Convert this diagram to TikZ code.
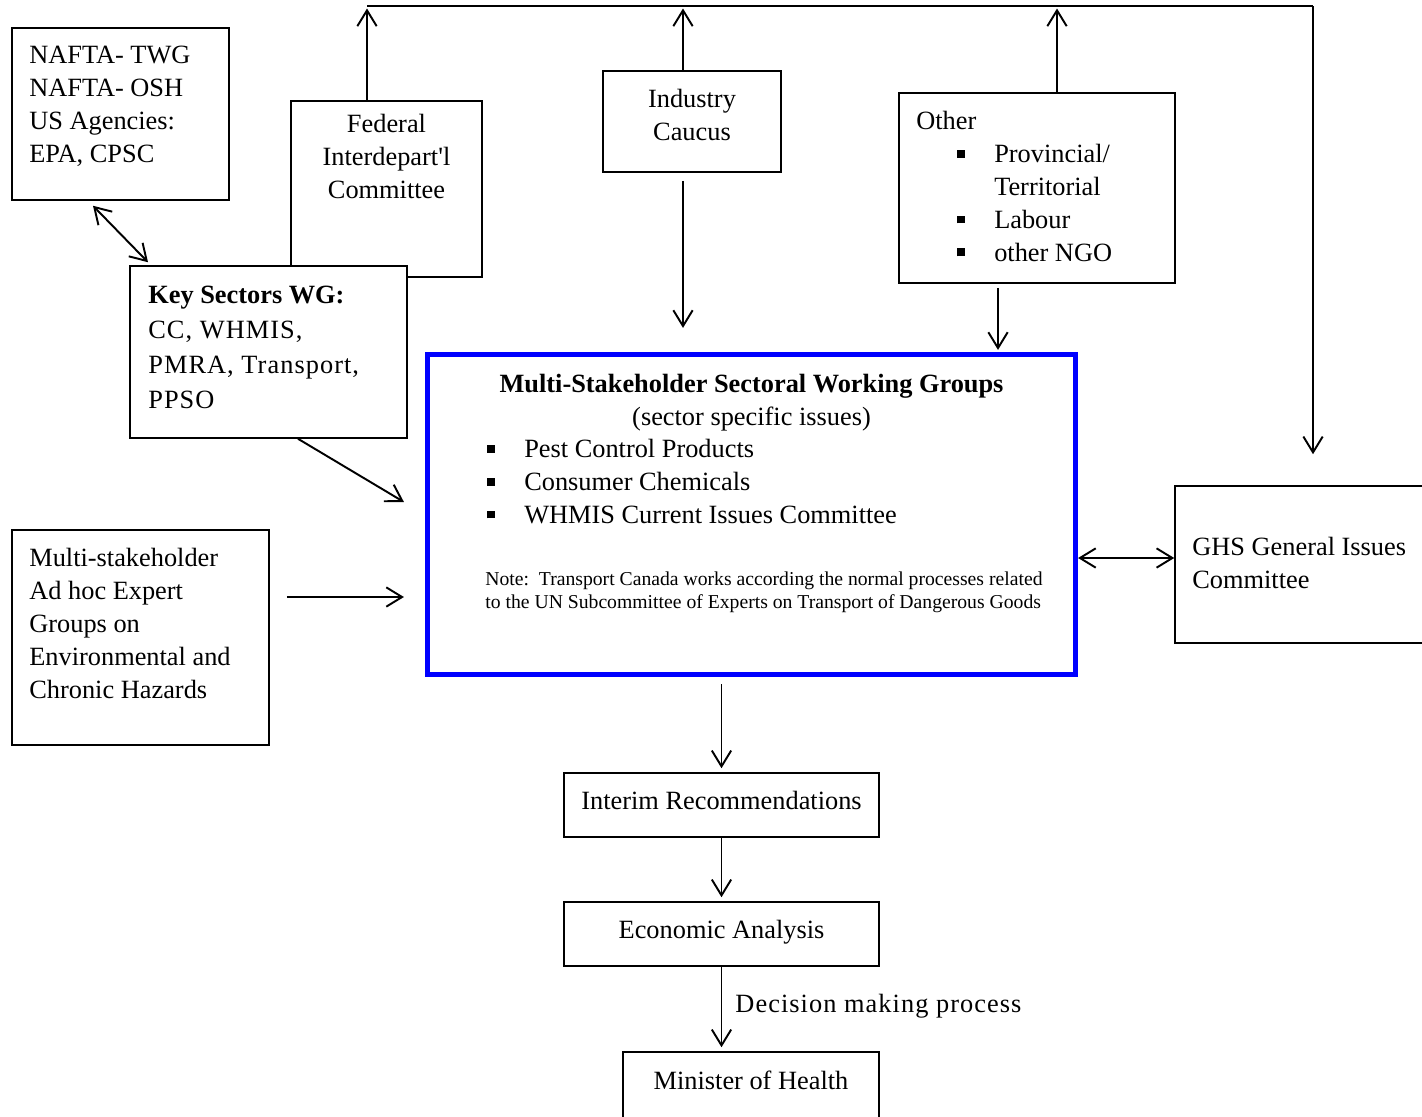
\documentclass[tikz,border=0pt]{standalone}
\usepackage{fontspec}
\setmainfont{Liberation Serif}
\usetikzlibrary{arrows.meta}

\definecolor{mainblue}{RGB}{0,0,255}
\newcommand{\bigtxt}{\fontsize{15pt}{18.7pt}\selectfont}
\newcommand{\notetxt}{\fontsize{11.2pt}{13.6pt}\selectfont}
\newcommand{\blt}{\makebox[21pt][l]{\rule[2.8pt]{4.5pt}{4.5pt}}}
\newcommand{\lsp}[1]{{\addfontfeature{LetterSpace=4}#1}}

\begin{document}
\begin{tikzpicture}[x=0.02cm, y=-0.02cm,
  box/.style={draw, line width=0.9pt, inner sep=0pt},
  flowbox/.style={box, minimum width=6.3cm, minimum height=1.28cm, font=\bigtxt, text depth=5pt},
  txt/.style={inner sep=0pt, align=left, font=\bigtxt},
  arr/.style={line width=1.1pt, -{Straight Barb[length=9pt,width=11pt]}},
  darr/.style={line width=1.1pt, {Straight Barb[length=9pt,width=11pt]}-{Straight Barb[length=9pt,width=11pt]}}]
  \useasboundingbox (0,0) rectangle (1422,1116);

  % boxes
  \node[box, minimum width=4.34cm, minimum height=3.44cm] (nafta) at (120.5,114) {};
  \node[box, minimum width=3.82cm, minimum height=3.52cm] (fed) at (386.5,189) {};
  \node[box, fill=white, minimum width=5.54cm, minimum height=3.44cm] (keys) at (268.5,352) {};
  \node[box, minimum width=3.56cm, minimum height=2.02cm] (ind) at (692,121.5) {};
  \node[box, minimum width=5.52cm, minimum height=3.8cm] (other) at (1037,188) {};
  \node[box, draw=mainblue, line width=3pt, minimum width=12.96cm, minimum height=6.4cm] (main) at (751.5,514.5) {};
  \node[box, minimum width=5.14cm, minimum height=4.3cm] (multi) at (140.5,637.5) {};
  \node[box, minimum width=5.2cm, minimum height=3.14cm] (ghs) at (1305,564.5) {};
  \node[flowbox] (interim) at (721.5,805) {Interim Recommendations};
  \node[flowbox] (econ) at (721.5,934) {Economic Analysis};
  \node[flowbox, minimum width=5.12cm, minimum height=1.46cm, text depth=9.5pt] (minister) at (751,1088.5) {Minister of Health};

  % texts
  \node[txt, anchor=north west] (nafta-t) at (29,46) {NAFTA- TWG\\NAFTA- OSH\\US Agencies:\\EPA, CPSC};
  \node[txt, align=center, anchor=north] (fed-t) at (386.5,114) {Federal\\Interdepart\textquotesingle l\\Committee};
  \node[txt, anchor=north west, font={\fontsize{15pt}{19.8pt}\selectfont}] (keys-t) at (148,286)
    {\textbf{Key Sectors WG:}\\\lsp{CC, WHMIS,}\\\lsp{PMRA, Transport,}\\\lsp{PPSO}};
  \node[txt, align=center, anchor=north] (ind-t) at (692,89) {Industry\\Caucus};
  \node[txt, anchor=north west] (other-t) at (916,111) {Other};
  \node[txt, anchor=north west] (other-l) at (957,144)
    {\blt Provincial/\\\hspace*{21pt}Territorial\\\blt Labour\\\blt other NGO};
  \node[txt, align=center, anchor=north] (main-t) at (751.5,374)
    {\textbf{Multi-Stakeholder Sectoral Working Groups}\\(sector specific issues)};
  \node[txt, anchor=north west] (main-l) at (487,439)
    {\blt Pest Control Products\\\blt Consumer Chemicals\\\blt WHMIS Current Issues Committee};
  \node[txt, anchor=north west, font=\notetxt] (note) at (485,571)
    {Note:\ \ Transport Canada works according the normal processes related\\to the UN Subcommittee of Experts on Transport of Dangerous Goods};
  \node[txt, anchor=north west] (multi-t) at (29,548)
    {Multi-stakeholder\\Ad hoc Expert\\Groups on\\Environmental and\\Chronic Hazards};
  \node[txt, anchor=north west] (ghs-t) at (1192,537) {GHS General Issues\\Committee};

  % connectors
  \coordinate (b1) at (367,6);
  \coordinate (b2) at (683,6);
  \coordinate (b3) at (1057,6);
  \coordinate (b4) at (1313,6);
  \coordinate (ox) at (998,0);
  \coordinate (my) at (0,597);
  \coordinate (gy) at (0,558);

  \draw[line width=1.1pt] (b1) -- (b4);
  \draw[arr, shorten >=0.05cm] (fed.north -| b1) -- (b1);
  \draw[arr, shorten >=0.05cm] (ind.north -| b2) -- (b2);
  \draw[arr, shorten >=0.05cm] (other.north -| b3) -- (b3);
  \draw[arr, shorten >=0.62cm] (b4) -- (b4 |- ghs.north);
  \draw[arr, shorten <=0.16cm, shorten >=0.48cm] (ind.south -| b2) -- (main.north -| b2);
  \draw[arr, shorten <=0.08cm, shorten >=0.04cm] (other.south -| ox) -- (main.north -| ox);
  \draw[darr] ([xshift=-0.55cm, yshift=-0.1cm]nafta.south) -- ([xshift=-2.41cm, yshift=0.06cm]keys.north);
  \draw[arr] ([xshift=0.59cm]keys.south) -- ([xshift=-0.42cm, yshift=0.25cm]main.west);
  \draw[arr, shorten <=0.34cm, shorten >=0.42cm] (multi.east |- my) -- (main.west |- my);
  \draw[darr] (main.east |- gy) -- (ghs.west |- gy);
  \draw[arr, shorten <=0.14cm, shorten >=0.08cm] (main.south -| interim.north) -- (interim.north);
  \draw[arr, shorten >=0.08cm] (interim.south) -- (econ.north);
  \draw[arr, shorten >=0.08cm] (econ.south) -- (econ.south |- minister.north)
    node[txt, midway, anchor=west, xshift=0.26cm, yshift=0.06cm] (decision) {\lsp{Decision making process}};
\end{tikzpicture}
\end{document}
